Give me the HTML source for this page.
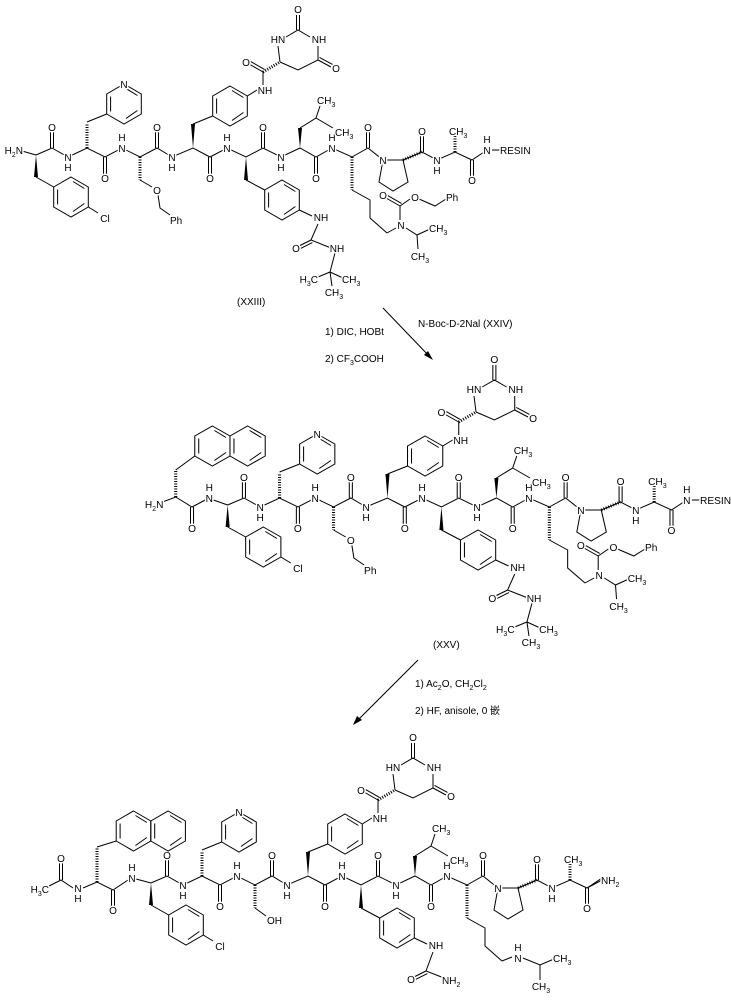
<!DOCTYPE html>
<html><head><meta charset="utf-8"><style>
html,body{margin:0;padding:0;background:#fff}
svg{display:block}
text{font-family:"Liberation Sans","Noto Sans CJK SC",sans-serif;font-size:10px;fill:#000}
.l text{stroke:#fff;stroke-width:3px;paint-order:stroke;stroke-linejoin:round}
.m{text-anchor:middle}.e{text-anchor:end}
</style></head><body>
<svg width="731" height="1000" viewBox="0 0 731 1000" xmlns="http://www.w3.org/2000/svg">
<defs>
<g id="hex" fill="none" stroke="#000" stroke-width="1">
<path d="M0,-20L17.3,-10L17.3,10L0,20L-17.3,10L-17.3,-10Z"/>
<path d="M2,-15.5L13.4,-8.5M13.4,6.5L2,14.5M-13.4,7.5L-13.4,-7.5"/>
</g>
<g id="naph">
<use href="#hex"/><use href="#hex" x="34.6"/>
</g>
<g id="core">
<g fill="none" stroke="#000" stroke-width="1">
<polyline points="36,155 52,148 68,157 87,148 105,157 122,148 140,157 157,148 172,157 193,148 210,157 227,148 246,157 263,148 281,157 300,148 316,157 332,148 352,157 368,148 383,160 403,160 422,152 437,160 455,152 472,160 487,150"/>
<path d="M50.5,148V131M53.5,148V131M155.5,148V131M158.5,148V131M261.5,148V131M264.5,148V131M366.5,148V131M369.5,148V131M420.5,152V133M423.5,152V133"/>
<path d="M103.5,157V174M106.5,157V174M208.5,157V174M211.5,157V174M314.5,157V174M317.5,157V174M470.5,160V176M473.5,160V176"/>
<path d="M383,160L379,182L393,191L408,182L403,160"/>
<path d="M36,177L53.7,187M88.3,207L98,213M87,122L106.7,114M193,124L212.7,116M247.3,96L257,90M263,85V72M280,62L278,46M286,37L298,30L310,37M318,46V60L298,70L280,62M296.5,30V15M299.5,30V15M318,60L331,67M319.5,57.4L332.5,64.4M263,72L249,64M264.5,69.4L250.5,61.4M246,180L264.7,190M299.3,210L312,216M300,128L316,118L320,106M316,118L333,128M352,190L370,200L370,218L387,233"/>
</g>
<g stroke="#000" stroke-width="3" stroke-dasharray="1,1.5" fill="none">
<path d="M87,148V123M140,157V180M352,157V190M455,152V136M263,72L280,62M403,160L422,152"/>
</g>
<polygon points="36,155 34,177 38,177"/>
<polygon points="193,148 191,124 195,124"/>
<polygon points="246,157 244,180 248,180"/>
<polygon points="300,148 298,128 302,128"/>
<use href="#hex" x="71" y="197"/>
<use href="#hex" x="124" y="104"/>
<use href="#hex" x="230" y="106"/>
<use href="#hex" x="282" y="200"/>
<g class="l">
<text class="m" x="52" y="131">O</text><text class="m" x="157" y="131">O</text><text class="m" x="263" y="131">O</text><text class="m" x="368" y="131">O</text><text class="m" x="422" y="135">O</text>
<text class="m" x="105" y="182">O</text><text class="m" x="210" y="182">O</text><text class="m" x="316" y="182">O</text><text class="m" x="472" y="184">O</text>
<text class="m" x="68" y="161">N</text><text class="m" x="68" y="171">H</text>
<text class="m" x="122" y="152">N</text><text class="m" x="122" y="141">H</text>
<text class="m" x="172" y="161">N</text><text class="m" x="172" y="171">H</text>
<text class="m" x="227" y="152">N</text><text class="m" x="227" y="141">H</text>
<text class="m" x="281" y="161">N</text><text class="m" x="281" y="171">H</text>
<text class="m" x="332" y="152">N</text><text class="m" x="332" y="141">H</text>
<text class="m" x="383" y="164">N</text>
<text class="m" x="437" y="164">N</text><text class="m" x="437" y="174">H</text>
<text class="m" x="105" y="222">Cl</text>
<text class="m" x="124" y="88">N</text>
<text class="m" x="265" y="94">NH</text>
<text class="m" x="246" y="66">O</text>
<text class="m" x="278" y="43">HN</text>
<text class="m" x="319" y="43">NH</text>
<text class="m" x="298" y="13">O</text>
<text class="m" x="336" y="72">O</text>
<text class="m" x="321" y="221">NH</text>
<text x="317" y="104">CH<tspan font-size="7" dy="3">3</tspan></text>
<text x="335" y="136">CH<tspan font-size="7" dy="3">3</tspan></text>
<text x="449" y="135">CH<tspan font-size="7" dy="3">3</tspan></text>
</g>
</g>
<g id="v1">
<g fill="none" stroke="#000" stroke-width="1">
<path d="M140,180L152,187M158,195L160,208L170,215M318,224L311,240L331,248M311,240L299,246M312.4,242.6L300.4,248.6M335,253L330,272L318,277M330,272L343,278M330,272L332,286M387,233L396,228M400,220V206L386,198M401.5,203.4L387.5,195.4M400,206L410,199M419,199L435,206L446,199M406,228L417,235L430,229M417,235L418,249M492,150H500"/>
</g>
<g class="l">
<text class="m" x="157" y="194">O</text>
<text x="170" y="224">Ph</text>
<text class="m" x="296" y="252">O</text>
<text class="m" x="337" y="252">NH</text>
<text class="e" x="318" y="283">H<tspan font-size="7" dy="3">3</tspan><tspan dy="-3">C</tspan></text>
<text x="342" y="283">CH<tspan font-size="7" dy="3">3</tspan></text>
<text class="m" x="334" y="296">CH<tspan font-size="7" dy="3">3</tspan></text>
<text class="m" x="401" y="229">N</text>
<text class="m" x="383" y="199">O</text>
<text class="m" x="415" y="201">O</text>
<text x="446" y="201">Ph</text>
<text x="429" y="232">CH<tspan font-size="7" dy="3">3</tspan></text>
<text class="m" x="420" y="260">CH<tspan font-size="7" dy="3">3</tspan></text>
<text class="m" x="487" y="154">N</text><text class="m" x="487" y="143">H</text>
<text x="500" y="154">RESIN</text>
</g>
</g>
</defs>

<!-- Structure XXIII -->
<use href="#core"/>
<use href="#v1"/>
<g fill="none" stroke="#000"><path d="M22,151L36,155"/></g>
<g class="l"><text class="e" x="23" y="154">H<tspan font-size="7" dy="3">2</tspan><tspan dy="-3">N</tspan></text></g>
<text x="237" y="305">(XXIII)</text>

<!-- arrow 1 -->
<g stroke="#000" fill="none"><path d="M383,308L430,357"/></g>
<polygon points="433,360 424,355 428,351"/>
<text x="325" y="335">1) DIC, HOBt</text>
<text x="325" y="362">2) CF<tspan font-size="7" dy="3">3</tspan><tspan dy="-3">COOH</tspan></text>
<text x="418" y="327">N-Boc-D-2Nal  (XXIV)</text>

<!-- Structure XXV -->
<g transform="translate(191,350) scale(1.018,1)">
<use href="#core"/>
<use href="#v1"/>
<g fill="none" stroke="#000">
<path d="M-28,152L-15,147L1,157L14,150M22,150L36,155M-0.5,157V174M2.5,157V174M-15,120L3.7,106"/>
</g>
<path d="M-15,147V121" stroke="#000" stroke-width="3" stroke-dasharray="1,1.5"/>
<use href="#naph" x="21" y="96"/>
<g class="l">
<text class="m" x="1" y="182">O</text>
<text class="m" x="18" y="152">N</text><text class="m" x="18" y="141">H</text>
<text class="e" x="-27" y="158">H<tspan font-size="7" dy="3">2</tspan><tspan dy="-3">N</tspan></text>
</g>
</g>
<text x="433" y="648">(XXV)</text>

<!-- arrow 2 -->
<g stroke="#000" fill="none"><path d="M418,660L356,722"/></g>
<polygon points="353,725 357,716 362,720"/>
<text x="415" y="687">1) Ac<tspan font-size="7" dy="3">2</tspan><tspan dy="-3">O, CH</tspan><tspan font-size="7" dy="3">2</tspan><tspan dy="-3">Cl</tspan><tspan font-size="7" dy="3">2</tspan></text>
<text x="415" y="714">2) HF, anisole, 0 嵌</text>

<!-- Final structure -->
<g transform="translate(115,728)">
<use href="#core"/>
<g fill="none" stroke="#000" stroke-width="1">
<path d="M-68,159L-54,152L-42,160M-32,160L-18,154L-2,162L13,152M21,151L36,155M-55.5,152V134M-52.5,152V134M-3.5,162V178M-0.5,162V178M-18,119L1.2,113"/>
<path d="M140,180L151,188M318,224L311,243L329,250M311,243L299,249M312.4,245.6L300.4,251.6M387,233L397,229M408,230L425,237L439,231M425,237L425,252M472,160L487,152"/>
</g>
<path d="M-18,154V120" stroke="#000" stroke-width="3" stroke-dasharray="1,1.5"/>
<use href="#naph" x="18.5" y="103"/>
<g class="l">
<text class="e" x="-66" y="165">H<tspan font-size="7" dy="3">3</tspan><tspan dy="-3">C</tspan></text>
<text class="m" x="-54" y="134">O</text>
<text class="m" x="-37" y="164">N</text><text class="m" x="-37" y="174">H</text>
<text class="m" x="-2" y="186">O</text>
<text class="m" x="17" y="154">N</text><text class="m" x="17" y="143">H</text>
<text x="152" y="196">OH</text>
<text class="m" x="296" y="255">O</text>
<text x="327" y="256">NH<tspan font-size="7" dy="3">2</tspan></text>
<text class="m" x="403" y="234">N</text><text class="m" x="403" y="223">H</text>
<text x="438" y="234">CH<tspan font-size="7" dy="3">3</tspan></text>
<text class="m" x="426" y="262">CH<tspan font-size="7" dy="3">3</tspan></text>
<text x="486" y="156">NH<tspan font-size="7" dy="3">2</tspan></text>
</g>
</g>
</svg>
</body></html>
